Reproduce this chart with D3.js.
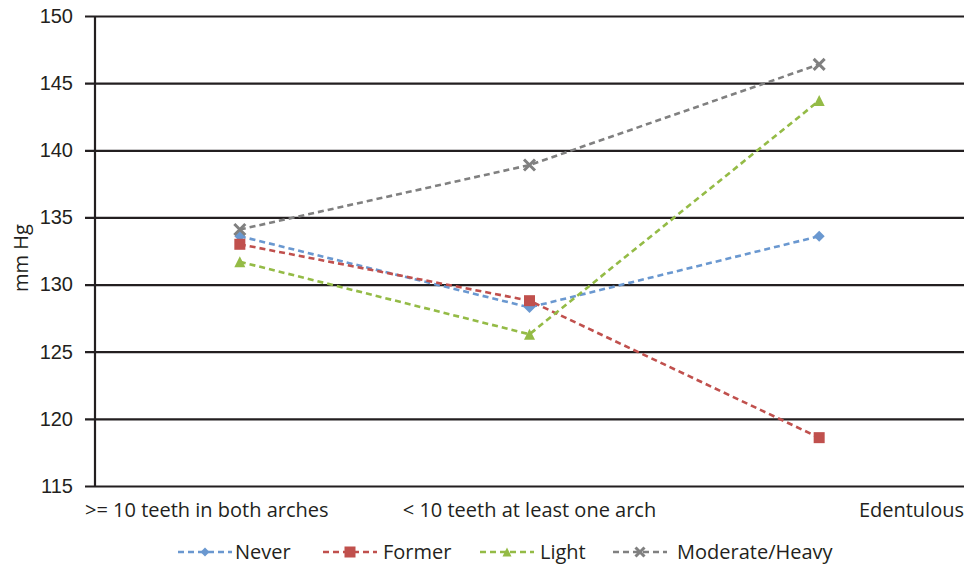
<!DOCTYPE html>
<html>
<head>
<meta charset="utf-8">
<script src="https://cdnjs.cloudflare.com/ajax/libs/d3/7.8.5/d3.min.js"></script>
<style>
  html, body { margin: 0; padding: 0; background: #fff; }
  svg { display: block; font-family: "Open Sans", "Noto Sans", sans-serif; }
</style>
</head>
<body>
<svg id="chart" width="976" height="567"></svg>
<script>
// Tooth-loss categories along the x axis
const categories = [">= 10 teeth in both arches", "< 10 teeth at least one arch", "Edentulous"];

// Mean blood pressure (mm Hg) per smoking group
const never    = [133.6, 128.3, 133.6];
const former   = [133.0, 128.8, 118.6];
const light    = [131.7, 126.3, 143.7];
const moderate = [134.1, 138.9, 146.4];

const seriesNames = ["Never", "Former", "Light", "Moderate/Heavy"];
const yTicks = [115, 120, 125, 130, 135, 140, 145, 150];

const series = [
  { name: seriesNames[0], values: never,    color: "#6a98d0", symbol: "diamond" },
  { name: seriesNames[1], values: former,   color: "#c0504d", symbol: "square" },
  { name: seriesNames[2], values: light,    color: "#94bb46", symbol: "triangle" },
  { name: seriesNames[3], values: moderate, color: "#808080", symbol: "cross" }
];

const svg = d3.select("#chart");
const plot = { left: 95, right: 964, top: 16, bottom: 486 };

const x = d3.scaleBand().domain(categories).range([plot.left, plot.right]);
const y = d3.scaleLinear().domain([115, 150]).range([plot.bottom, plot.top]);
const cx = c => x(c) + x.bandwidth() / 2;

const ink = "#231f20";
const textColor = "#231f20";

// Horizontal gridlines with short tick stubs on the left
const yAxis = d3.axisLeft(y).tickValues(yTicks).tickSize(0).tickFormat(d3.format("d"));
const gy = svg.append("g").attr("transform", `translate(${plot.left},0)`);
gy.call(yAxis);
gy.select(".domain").remove();
gy.selectAll(".tick line")
  .attr("x1", -10).attr("x2", plot.right - plot.left)
  .attr("stroke", ink).attr("stroke-width", 2.2);
gy.selectAll(".tick text")
  .attr("x", -22)
  .attr("fill", textColor)
  .style("font-size", "20px");

// Vertical axis line
svg.append("line")
  .attr("x1", plot.left).attr("x2", plot.left)
  .attr("y1", plot.top).attr("y2", plot.bottom)
  .attr("stroke", ink).attr("stroke-width", 2.2);

// Y axis title
svg.append("text")
  .attr("transform", `translate(28,258) rotate(-90)`)
  .attr("text-anchor", "middle")
  .attr("fill", textColor)
  .style("font-size", "20px")
  .text("mm Hg");

// Category labels (outer labels kept inside the chart width)
svg.append("g").selectAll("text")
  .data(categories)
  .join("text")
  .attr("x", (d, i) => i === 0 ? 85 : i === categories.length - 1 ? plot.right : cx(d))
  .attr("y", 517)
  .attr("text-anchor", (d, i) => i === 0 ? "start" : i === categories.length - 1 ? "end" : "middle")
  .attr("fill", textColor)
  .style("font-size", "20px")
  .text(d => d);

// Marker drawing
function drawMarker(g, type, color, size) {
  const s = size;
  if (type === "diamond") {
    g.append("path").attr("d", `M0,${-s/2}L${s/2},0L0,${s/2}L${-s/2},0Z`).attr("fill", color);
  } else if (type === "square") {
    g.append("rect").attr("x", -s/2).attr("y", -s/2).attr("width", s).attr("height", s).attr("fill", color);
  } else if (type === "triangle") {
    g.append("path").attr("d", `M0,${-s/2}L${s/2},${s/2}L${-s/2},${s/2}Z`).attr("fill", color);
  } else if (type === "cross") {
    const h = s / 2;
    g.append("path").attr("d", `M${-h},${-h}L${h},${h}M${-h},${h}L${h},${-h}`)
      .attr("stroke", color).attr("stroke-width", 3).attr("fill", "none");
  }
}

const line = d3.line().x((d, i) => cx(categories[i])).y(d => y(d));

const gSeries = svg.append("g").selectAll("g").data(series).join("g");
gSeries.append("path")
  .attr("d", d => line(d.values))
  .attr("fill", "none")
  .attr("stroke", d => d.color)
  .attr("stroke-width", 2.6)
  .attr("stroke-dasharray", "6,4");
gSeries.each(function (s) {
  const g = d3.select(this);
  s.values.forEach((v, i) => {
    const m = g.append("g").attr("transform", `translate(${cx(categories[i])},${y(v)})`);
    drawMarker(m, s.symbol, s.color, 11);
  });
});

// Legend
const legendX = [178, 323, 480, 613];
const legendY = 552;
const legend = svg.append("g").selectAll("g").data(series).join("g")
  .attr("transform", (d, i) => `translate(${legendX[i]},${legendY})`);
legend.append("line")
  .attr("x1", 0).attr("x2", 54).attr("y1", 0).attr("y2", 0)
  .attr("stroke", d => d.color).attr("stroke-width", 2.6)
  .attr("stroke-dasharray", "6,4");
legend.each(function (s) {
  const m = d3.select(this).append("g").attr("transform", "translate(27,0)");
  drawMarker(m, s.symbol, s.color, s.symbol === "square" ? 11 : 9);
});
legend.append("text")
  .attr("x", (d, i) => [57, 60, 60, 64][i])
  .attr("y", 7)
  .attr("fill", textColor)
  .style("font-size", "20px")
  .text(d => d.name);
</script>
</body>
</html>
